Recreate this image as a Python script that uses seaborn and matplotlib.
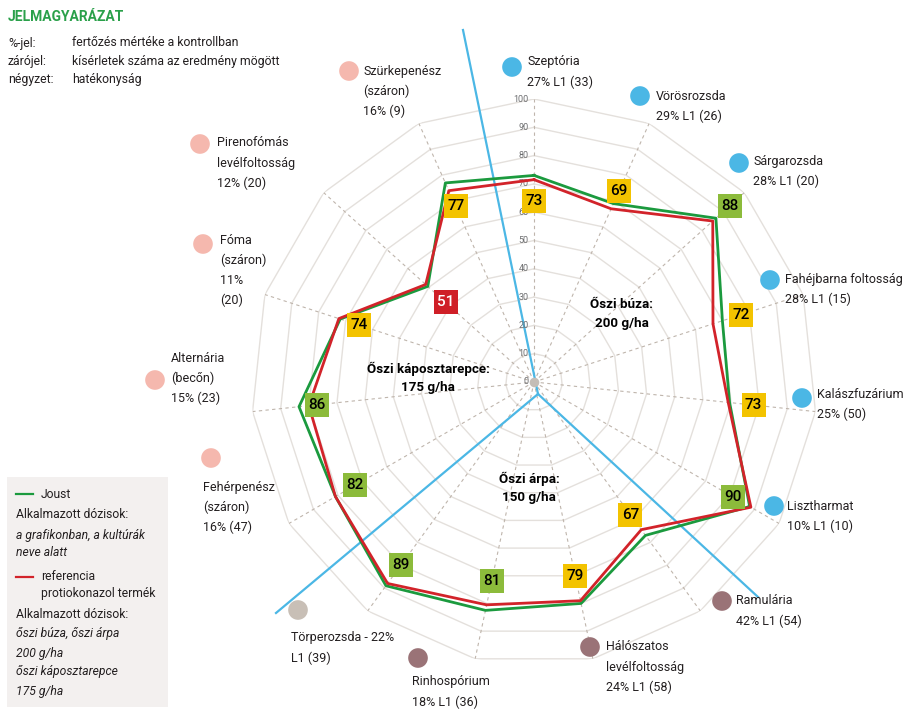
import numpy as np
import pandas as pd
import seaborn as sns
import matplotlib.pyplot as plt
from matplotlib.transforms import Affine2D
from matplotlib.patches import Rectangle

# data
categories = ["Szeptória\n27% L1 (33)",
              "Vörösrozsda\n29% L1 (26)",
              "Sárgarozsda\n28% L1 (20)",
              "Fahéjbarna foltosság\n28% L1 (15)",
              "Kalászfuzárium\n25% (50)",
              "Lisztharmat\n10% L1 (10)",
              "Ramulária\n42% L1 (54)",
              "Hálószatos\nlevélfoltosság\n24% L1 (58)",
              "Rinhospórium\n18% L1 (36)",
              "Törperozsda - 22%\nL1 (39)",
              "Fehérpenész\n(száron)\n16% (47)",
              "Alternária\n(becőn)\n15% (23)",
              "Fóma\n(száron)\n11%\n(20)",
              "Pirenofómás\nlevélfoltosság\n12% (20)",
              "Szürkepenész\n(száron)\n16% (9)"]
crop_group = ["búza"] * 6 + ["árpa"] * 3 + ["árpa2"] + ["repce"] * 5
joust = [73, 69, 86.5, 70, 69.5, 88, 67, 80, 82.5, 89, 81, 83.5, 72, 50.5, 77]
reference = [71.5, 67, 85, 66.5, 69, 88.5, 64.5, 79, 80.5, 88, 81, 80, 72.5, 51.5, 74]
efficacy = [73, 69, 88, 72, 73, 90, 67, 79, 81, 89, 82, 86, 74, 51, 77]
ring_values = list(range(0, 101, 10))

# layout (pixels of the 911x714 picture)
W, H = 911, 714
CX, CY, R100 = 534, 382, 283
dot_xy = [(512, 67), (640, 96), (739, 163), (770, 280), (802, 398), (774, 506),
          (722, 601), (590, 647), (418, 658), (298, 610), (211, 458), (155, 380),
          (203, 244), (200, 144), (349, 71)]
text_xy = [(527, 62), (656, 96), (753, 161), (785, 279), (817, 394), (787, 506),
           (736, 601), (606, 647), (412, 682), (291, 638), (203, 487), (171, 358),
           (220, 240), (217, 143), (363, 71)]
box_outside = [False, True, True, True, True] + [False] * 10

TXT = "#231f20"
GREEN = "#1b9a3e"
RED = "#d2232a"
BLUE = "#4bb7e5"
group_colors = {"búza": BLUE, "árpa": "#9a7377", "árpa2": "#c8bfb6", "repce": "#f5b8ae"}

plt.rcParams['font.family'] = ['Roboto', 'DejaVu Sans']

fig = plt.figure(figsize=(W / 100, H / 100), dpi=100)
fig.patch.set_facecolor("white")

ax = fig.add_axes([(CX - R100) / W, (H - CY - R100) / H, 2 * R100 / W, 2 * R100 / H],
                  projection="polar")
ax.set_theta_zero_location("N")
ax.set_theta_direction(-1)
ax.set_axis_off()

n = len(categories)
theta = np.arange(n) * 2 * np.pi / n
theta_closed = np.append(theta, theta[0])

# polygon grid
for r in ring_values[1:]:
    ax.plot(theta_closed, [r] * (n + 1), color="#e4e0dc", lw=1, zorder=1)
for t in theta:
    ax.plot([t, t], [0, 100], color="#bfb5ac", lw=0.8, ls=(0, (3, 3)), zorder=1)
for r in ring_values:
    ax.annotate(str(r), xy=(0, r), xytext=(-4, 0), textcoords="offset points",
                ha="right", va="center", fontsize=6.5, color="#6d6e70")
ax.scatter([0], [0], s=35, color="#c4bdb6", zorder=2)

# blue crop separators (pixel coordinates)
px = Affine2D().scale(1 / W, -1 / H).translate(0, 1) + fig.transFigure
hub = (538, 394)
for end in [(463, 30), (276, 613), (758, 597)]:
    ax.plot([hub[0], end[0]], [hub[1], end[1]], color=BLUE, lw=1.6,
            transform=px, clip_on=False, zorder=1.5)

# data lines
df = pd.concat([
    pd.DataFrame({"theta": theta_closed, "value": joust + joust[:1], "series": "Joust"}),
    pd.DataFrame({"theta": theta_closed, "value": reference + reference[:1], "series": "referencia"}),
])
sns.lineplot(data=df, x="theta", y="value", hue="series", palette=[GREEN, RED],
             sort=False, estimator=None, linewidth=2, legend=False, ax=ax, zorder=3)

# efficacy boxes
def box_color(v):
    if v >= 80:
        return "#8cbb3b"
    if v >= 60:
        return "#f3c300"
    return "#cf1f27"

for t, v, out in zip(theta, efficacy, box_outside):
    rb = v + 5 if out else v - 9
    ax.scatter([t], [rb], marker="s", s=280, color=box_color(v), zorder=4, linewidths=0)
    ax.text(t, rb, str(v), ha="center", va="center", fontsize=11, fontweight="medium",
            color="white" if v < 60 else "black", zorder=5)

ax.set_ylim(0, 100)

# overlay in pixel coordinates for texts, dots and legend
ov = fig.add_axes([0, 0, 1, 1], zorder=5)
ov.set_xlim(0, W)
ov.set_ylim(H, 0)
ov.set_axis_off()
ov.patch.set_alpha(0)

dots = pd.DataFrame({"x": [d[0] for d in dot_xy], "y": [d[1] for d in dot_xy],
                     "group": crop_group})
sns.scatterplot(data=dots, x="x", y="y", hue="group", palette=group_colors,
                s=200, linewidth=0, legend=False, ax=ov)
for (tx, ty), lab in zip(text_xy, categories):
    for k, line in enumerate(lab.split("\n")):
        ov.text(tx, ty + 20 * k, line, ha="left", va="center", fontsize=9, color=TXT)

# crop dose labels
for x, y, l1, l2 in [(622, 305, "Őszi búza:", "200 g/ha"),
                     (428, 369, "Őszi káposztarepce:", "175 g/ha"),
                     (529, 479, "Őszi árpa:", "150 g/ha")]:
    ov.text(x, y, l1, ha="center", va="center", fontsize=9.6, fontweight="bold", color="black")
    ov.text(x, y + 19, l2, ha="center", va="center", fontsize=9.6, fontweight="bold", color="black")

# header
ov.text(8, 17, "JELMAGYARÁZAT", ha="left", va="center", fontsize=10,
        fontweight="bold", color="#2aa04a")
for y, a, b in [(43, "%-jel:", "fertőzés mértéke a kontrollban"),
                (61, "zárójel:", "kísérletek száma az eredmény mögött"),
                (80, "négyzet:", "hatékonyság")]:
    ov.text(8, y, a, ha="left", va="center", fontsize=8.8, color=TXT)
    ov.text(72, y, b, ha="left", va="center", fontsize=8.8, color=TXT)

# legend box
ov.add_patch(Rectangle((7, 477), 161, 230, facecolor="#f3f0ef", edgecolor="none", zorder=0))
ov.plot([16, 33], [494, 494], color=GREEN, lw=1.6)
ov.plot([16, 33], [577, 577], color=RED, lw=1.6)
legend_lines = [(41, 494, "Joust", "normal"),
                (16, 515, "Alkalmazott dózisok:", "normal"),
                (16, 535, "a grafikonban, a kultúrák", "italic"),
                (16, 553, "neve alatt", "italic"),
                (41, 576, "referencia", "normal"),
                (41, 593, "protiokonazol termék", "normal"),
                (16, 614, "Alkalmazott dózisok:", "normal"),
                (16, 634, "őszi búza, őszi árpa", "italic"),
                (16, 653, "200 g/ha", "italic"),
                (16, 672, "őszi káposztarepce", "italic"),
                (16, 691, "175 g/ha", "italic")]
for x, y, s, style in legend_lines:
    ov.text(x, y, s, ha="left", va="center", fontsize=8.7, style=style, color=TXT)

fig.savefig("out.png", dpi=100)
